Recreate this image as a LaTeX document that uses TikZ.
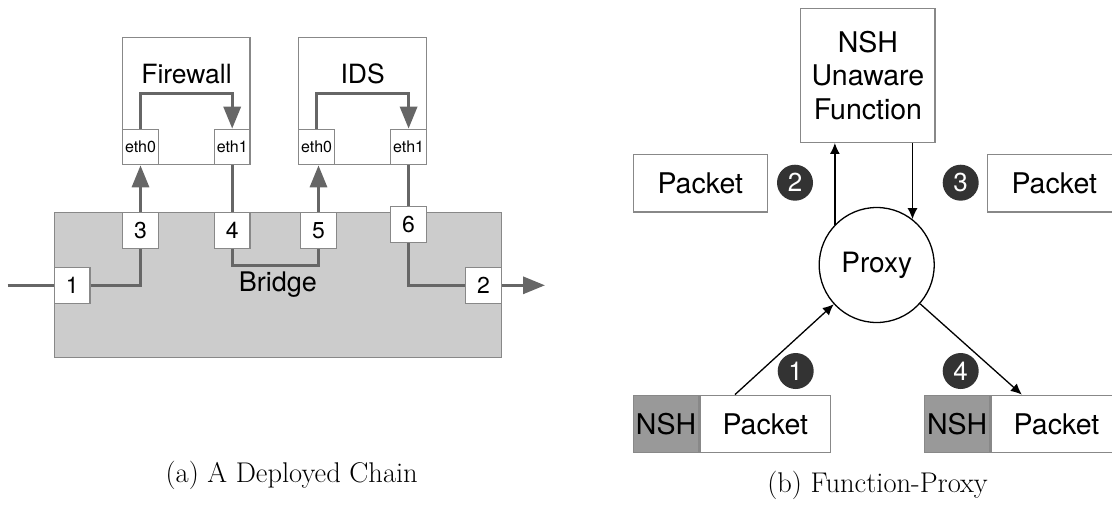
\documentclass[tikz,border=0pt]{standalone}
\usepackage{fontspec}
\newfontfamily\hv{TeX Gyre Heros}
\usetikzlibrary{arrows.meta,calc}

\definecolor{linegray}{HTML}{666666}
\definecolor{boxgray}{HTML}{888888}
\definecolor{bridgegray}{HTML}{CCCCCC}
\definecolor{nshgray}{HTML}{999999}
\definecolor{badgegray}{HTML}{333333}

\tikzset{
  vnf/.style={draw=boxgray, line width=1.2pt, fill=white, minimum width=127.3pt,
    minimum height=127.3pt, inner sep=0pt},
  ethport/.style={draw=boxgray, line width=1.2pt, fill=white, minimum width=35.5pt,
    minimum height=35.5pt, inner sep=0pt, font=\hv\fontsize{16}{16}\selectfont},
  brport/.style={draw=boxgray, line width=1.2pt, fill=white, minimum width=35.5pt,
    minimum height=36pt, inner sep=0pt, font=\hv\fontsize{23}{23}\selectfont},
  flow/.style={draw=linegray, line width=3.2pt},
  flowarrow/.style={flow, -{Triangle[length=22pt,width=17pt]}},
  pktbox/.style={draw=boxgray, line width=1.3pt, fill=white, minimum height=57.5pt,
    inner sep=0pt, font=\hv\fontsize{28.5}{28.5}\selectfont},
  nshbox/.style={pktbox, fill=nshgray, minimum width=65.4pt},
  badge/.style={circle, fill=badgegray, text=white, minimum size=36pt, inner sep=0pt,
    font=\hv\fontsize{26}{26}\selectfont},
  thinarrow/.style={draw=black, line width=1.3pt, -{Latex[length=11pt,width=10pt]}},
  caption/.style={font=\fontsize{28.5}{34}\selectfont}
}

\begin{document}
\begin{tikzpicture}[x=1pt, y=-1pt]
\useasboundingbox (0,0) rectangle (1112,504);

% ---------- (a) deployed chain ----------
\node[draw=boxgray, line width=1.2pt, fill=bridgegray, minimum width=447.1pt,
      minimum height=145pt, inner sep=0pt, font=\hv\fontsize{27}{27}\selectfont]
      (bridge) at (277.85,284.8) {Bridge};

\node[vnf] (fw)  at (186.4,101.2) {};
\node[vnf] (ids) at (362.5,101.2) {};
\node[font=\hv\fontsize{26.5}{26.5}\selectfont] (fwlabel)  at (186.5,74) {Firewall};
\node[font=\hv\fontsize{26.5}{26.5}\selectfont] (idslabel) at (362.7,74) {IDS};

\node[ethport] (fw0)  at (140.5,147) {eth0};
\node[ethport] (fw1)  at (232.2,147) {eth1};
\node[ethport] (ids0) at (316.6,147) {eth0};
\node[ethport] (ids1) at (408.6,147) {eth1};

\node[brport] (p3) at (140.5,230.3) {3};
\node[brport] (p4) at (232.2,230.3) {4};
\node[brport] (p5) at (318.5,230.3) {5};
\node[brport] (p6) at (408.6,224.5) {6};
\node[brport] (p1) at (72.2,285.3) {1};
\node[brport] (p2) at (483.6,285.3) {2};

\coordinate (in)  at (7.5,285.3);
\coordinate (out) at (545,285.3);

\draw[flow] (in) -- (p1.west);
\draw[flow] (p1.east) -| (p3.south);
\draw[flowarrow] (p3.north) -- (fw0.south);
\draw[flowarrow] (fw0.north) -- ++(0,-35) -| (fw1.north);
\draw[flow] (fw1.south) -- (p4.north);
\draw[flow] (p4.south) -- ++(0,16.7) -| (p5.south);
\draw[flowarrow] (p5.north) -- (p5.north |- ids0.south);
\draw[flowarrow] (ids0.north) -- ++(0,-35) -| (ids1.north);
\draw[flow] (ids1.south) -- (p6.north);
\draw[flow] (p6.south) |- (p2.west);
\draw[flowarrow] (p2.east) -- (out);

\node[caption] (capa) at (291.7,475) {(a) A Deployed Chain};

% ---------- (b) function proxy ----------
\node[draw=boxgray, line width=1.3pt, minimum width=134.3pt, minimum height=134pt,
      inner sep=0pt, align=center, font=\hv\fontsize{28.5}{33.5}\selectfont]
      (nuf) at (867.9,75.3) {NSH\\Unaware\\Function};

\node[pktbox, minimum width=134pt] (pk2) at (700.3,183.2) {Packet};
\node[pktbox, minimum width=134pt] (pk3) at (1054.3,183.2) {Packet};

\node[circle, draw=black, line width=1.3pt, minimum size=115pt, inner sep=0pt,
      font=\hv\fontsize{28}{28}\selectfont] (proxy) at (876.7,265) {Proxy};

\node[badge] (b1) at (795.7,371) {1};
\node[badge] (b2) at (795,182.7) {2};
\node[badge] (b3) at (960.7,182.7) {3};
\node[badge] (b4) at (960.7,371) {4};

\node[nshbox] (nsh1) at (666,424) {NSH};
\node[pktbox, minimum width=130.6pt, anchor=west] (pk1) at (nsh1.east) {Packet};
\node[nshbox] (nsh4) at (957.2,424) {NSH};
\node[pktbox, minimum width=130.6pt, anchor=west] (pk4) at (nsh4.east) {Packet};

\draw[thinarrow] (proxy.136) -- (proxy.136 |- nuf.south);
\draw[thinarrow] (nuf.south -| proxy.52) -- (proxy.52);
\draw[thinarrow] ($(pk1.north west)!0.27!(pk1.north east)$) -- (proxy);
\draw[thinarrow] (proxy) -- ($(pk4.north west)!0.237!(pk4.north east)$);

\node[caption] (capb) at (877.5,485) {(b) Function-Proxy};
\end{tikzpicture}
\end{document}
